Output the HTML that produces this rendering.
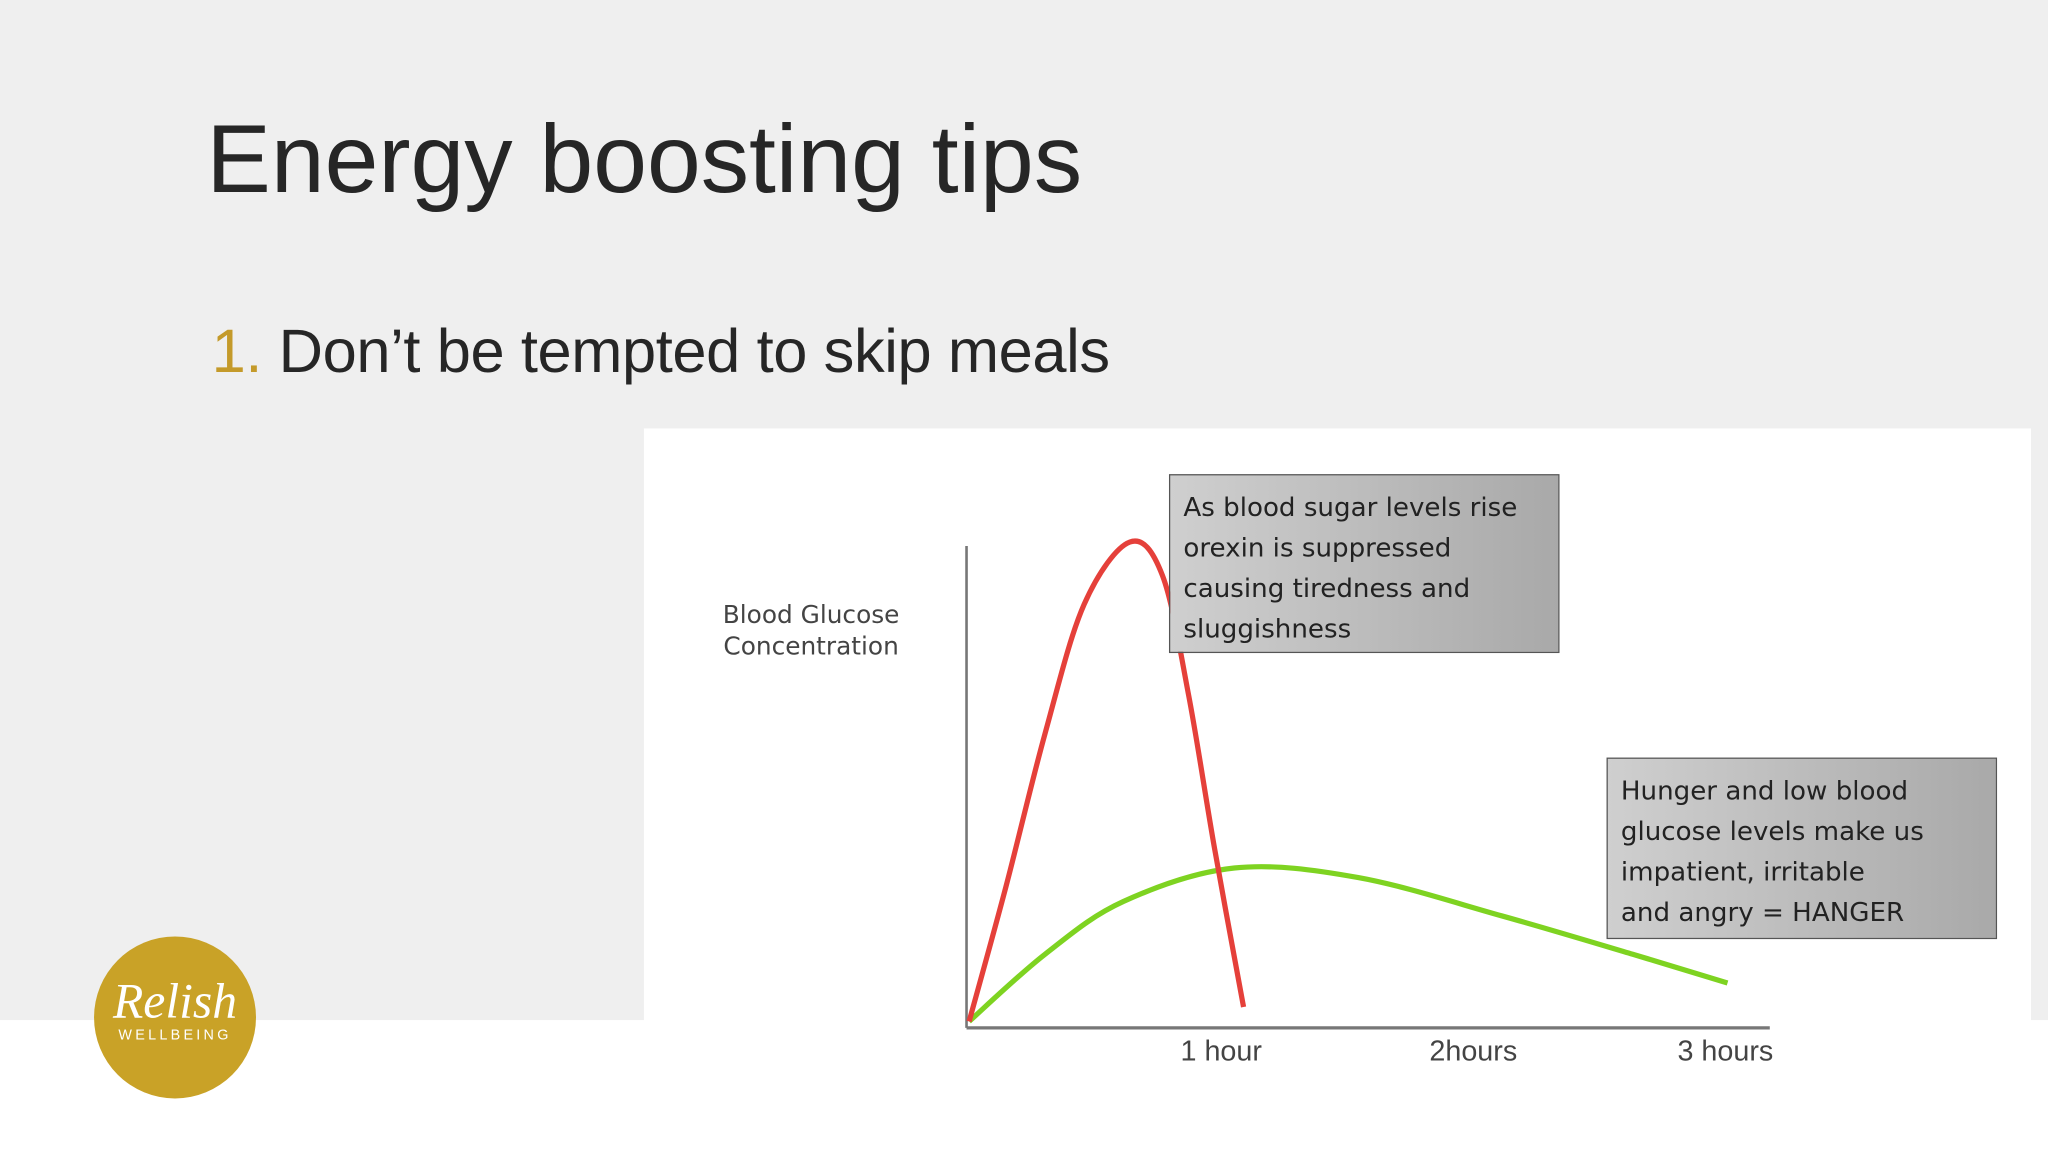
<!DOCTYPE html>
<html><head><meta charset="utf-8">
<style>
html,body{margin:0;padding:0;width:2048px;height:1152px;overflow:hidden;background:#efefef;}
#s{position:absolute;left:0;top:0;width:1568px;height:882px;transform:scale(1.30612);transform-origin:0 0;font-family:"Liberation Sans",sans-serif;}
.box{position:absolute;border:1.5px solid #555;background:linear-gradient(90deg,#cfcfcf,#a9a9a9);font-family:"DejaVu Sans","Liberation Sans",sans-serif;font-size:20px;line-height:31px;color:#222;padding:9px 10px;box-sizing:border-box;white-space:nowrap;}
</style></head><body>
<div id="s">
<div style="position:absolute;left:0;top:781px;width:1568px;height:101px;background:#fff"></div>
<div style="position:absolute;left:158px;top:79px;font-size:74px;color:#262626">Energy boosting tips</div>
<div style="position:absolute;left:162px;top:241px;font-size:47px;color:#262626;letter-spacing:-0.3px"><span style="color:#c49a2a">1.</span> Don’t be tempted to skip meals</div>
<div style="position:absolute;left:493px;top:328px;width:1062px;height:512px;background:#fff"></div>
<svg id="chart" style="position:absolute;left:0;top:0" width="1568" height="882"></svg>
<div class="box" style="left:895px;top:363px;width:299px;height:137px">As blood sugar levels rise<br>orexin is suppressed<br>causing tiredness and<br>sluggishness</div>
<div class="box" style="left:1230px;top:580px;width:299px;height:139px">Hunger and low blood<br>glucose levels make us<br>impatient, irritable<br>and angry = HANGER</div>
<div style="position:absolute;left:72px;top:717px;width:124px;height:124px;border-radius:50%;background:#c9a227;color:#fff;text-align:center">
<div style="font-family:'Liberation Serif',serif;font-style:italic;font-size:38px;margin-top:30px;line-height:40px">Relish</div>
<div style="font-size:11px;letter-spacing:2.5px">WELLBEING</div></div>
</div>
<script>
const hours=[0,1,2,3];
const tickLabels=["1 hour","2hours","3 hours"];
const redHours=[0,0.147,0.304,0.461,0.644,0.775,0.88,0.984,1.1];
const redValues=[0,28,60,87,100,93,68,36,3];
const greenHours=[0,0.304,0.618,1.063,1.56,2.136,2.66,3.04];
const greenValues=[0,14,25,32,30,22,14,8];
const NS="http://www.w3.org/2000/svg";
const svg=document.getElementById('chart');
const X=h=>742+h*191, Y=v=>782-v*3.67;
function el(t,a){const e=document.createElementNS(NS,t);for(const k in a)e.setAttribute(k,a[k]);svg.appendChild(e);return e;}
const ya=el('line',{x1:740,y1:418,x2:740,y2:787,stroke:'#777','stroke-width':2});


const xa=el('line',{x1:740,y1:787,x2:1355,y2:787,stroke:'#777','stroke-width':2.5});


tickLabels.forEach((t,i)=>{const e=el('text',{x:X(hours[i+1])+2+i*2,y:812,'text-anchor':'middle','font-size':22,fill:'#444','font-family':'Liberation Sans, sans-serif'});e.textContent=t;

});
["Blood Glucose","Concentration"].forEach((t,i)=>{const e=el('text',{x:621,y:477+i*24,'text-anchor':'middle','font-size':19,fill:'#444','font-family':'DejaVu Sans, sans-serif'});e.textContent=t;

});
function path(hs,vs){const p=hs.map((h,i)=>[X(h),Y(vs[i])]);let d='M'+p[0];for(let i=0;i<p.length-1;i++){const a=p[Math.max(0,i-1)],b=p[i],c=p[i+1],e=p[Math.min(p.length-1,i+2)];
d+=` C${b[0]+(c[0]-a[0])/6},${b[1]+(c[1]-a[1])/6} ${c[0]-(e[0]-b[0])/6},${c[1]-(e[1]-b[1])/6} ${c[0]},${c[1]}`;}return d;}
const g=el('path',{d:path(greenHours,greenValues),fill:'none',stroke:'#7ed321','stroke-width':4});


const r=el('path',{d:path(redHours,redValues),fill:'none',stroke:'#e5403a','stroke-width':4});


</script>
</body></html>
